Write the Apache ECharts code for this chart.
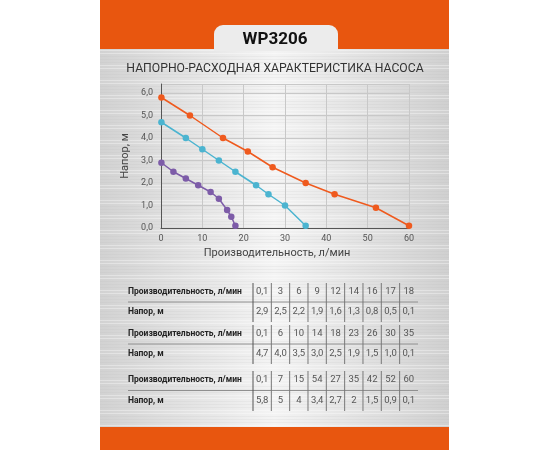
<!DOCTYPE html>
<html>
<head>
<meta charset="utf-8">
<script src="https://cdn.jsdelivr.net/npm/echarts@6/dist/echarts.min.js"></script>
<style>
  html, body { margin: 0; padding: 0; background: #fff; }
  #main { width: 550px; height: 450px; }
</style>
</head>
<body>
<div id="main"></div>
<script>
// данные графика
let flow1 = [0.1, 3, 6, 9, 12, 14, 16, 17, 18];
let head1 = [2.9, 2.5, 2.2, 1.9, 1.6, 1.3, 0.8, 0.5, 0.1];
let flow2 = [0.1, 6, 10, 14, 18, 23, 26, 30, 35];
let head2 = [4.7, 4.0, 3.5, 3.0, 2.5, 1.9, 1.5, 1.0, 0.1];
let flow3 = [0.1, 7, 15, 21, 27, 35, 42, 52, 60];
let head3 = [5.8, 5, 4, 3.4, 2.7, 2, 1.5, 0.9, 0.1];

// таблицы (как напечатано)
let tblFlow1 = ['0,1', '3', '6', '9', '12', '14', '16', '17', '18'];
let tblHead1 = ['2,9', '2,5', '2,2', '1,9', '1,6', '1,3', '0,8', '0,5', '0,1'];
let tblFlow2 = ['0,1', '6', '10', '14', '18', '23', '26', '30', '35'];
let tblHead2 = ['4,7', '4,0', '3,5', '3,0', '2,5', '1,9', '1,5', '1,0', '0,1'];
let tblFlow3 = ['0,1', '7', '15', '54', '27', '35', '42', '52', '60'];
let tblHead3 = ['5,8', '5', '4', '3,4', '2,7', '2', '1,5', '0,9', '0,1'];

let colors = ['#7d5ca8', '#4bb4d0', '#ef5a1e'];
let orange = '#e8560f';

let myChart = echarts.init(document.getElementById('main'));

function pairs(xs, ys) {
    return xs.map((x, i) => [x, ys[i]]);
}

let graphics = [
    // рамка и фон "под металл"
    {
        type: 'rect', z: -10, silent: true,
        shape: { x: 100, y: 0, width: 349, height: 450 },
        style: {
            fill: new echarts.graphic.LinearGradient(0, 0, 1, 0, [
                { offset: 0, color: '#d2d2d2' },
                { offset: 0.5, color: '#f4f4f4' },
                { offset: 1, color: '#d0d0d0' }
            ])
        }
    }
];
// штрихи
for (let y = 50; y < 427; y += 3) {
    let k = (y * 7) % 5;
    graphics.push({
        type: 'line', z: -9, silent: true,
        shape: { x1: 100, y1: y + 0.5, x2: 449, y2: y + 0.5 },
        style: { stroke: k < 2 ? '#ffffff' : '#b8b8b8', opacity: k < 2 ? 0.35 : 0.12, lineWidth: 1 }
    });
}
graphics.push(
    { type: 'rect', z: -8, silent: true, shape: { x: 100, y: 0, width: 349, height: 49 }, style: { fill: orange } },
    { type: 'rect', z: -8, silent: true, shape: { x: 100, y: 427, width: 349, height: 23 }, style: { fill: orange } },
    {
        type: 'rect', z: -7, silent: true,
        shape: { x: 214, y: 25, width: 124, height: 26, r: [9, 9, 0, 0] },
        style: { fill: '#ececec' }
    },
    {
        type: 'text', left: 'center', top: 31,
        style: { text: 'WP3206', font: 'bold 17px Roboto', fill: '#111' }
    },
    {
        type: 'text', left: 'center', top: 63,
        style: { text: 'НАПОРНО-РАСХОДНАЯ ХАРАКТЕРИСТИКА НАСОСА', font: '12.2px Roboto', fill: '#333' }
    }
);

// таблицы
let tables = [
    [tblFlow1, tblHead1, 292, 312],
    [tblFlow2, tblHead2, 334, 354],
    [tblFlow3, tblHead3, 380, 401]
];
let colLeft = 253, colW = 18.33;
tables.forEach(t => {
    let [fl, hd, y1, y2] = t;
    graphics.push({ type: 'text', x: 128, y: y1, style: { text: 'Производительность, л/мин', font: 'bold 8.5px Roboto', fill: '#222', verticalAlign: 'middle' } });
    graphics.push({ type: 'text', x: 128, y: y2, style: { text: 'Напор, м', font: 'bold 8.5px Roboto', fill: '#222', verticalAlign: 'middle' } });
    graphics.push({ type: 'line', silent: true, shape: { x1: 128, y1: (y1 + y2) / 2, x2: 418, y2: (y1 + y2) / 2 }, style: { stroke: '#909090', lineWidth: 1 } });
    for (let i = 0; i < 9; i++) {
        let cx = colLeft + colW * i + colW / 2;
        graphics.push({ type: 'line', silent: true, shape: { x1: colLeft + colW * i, y1: y1 - 9, x2: colLeft + colW * i, y2: y2 + 10 }, style: { stroke: i === 0 ? '#555' : '#777', lineWidth: 1 } });
        graphics.push({ type: 'text', x: cx, y: y1, style: { text: fl[i], font: '9.5px Roboto', fill: '#555', align: 'center', verticalAlign: 'middle' } });
        graphics.push({ type: 'text', x: cx, y: y2, style: { text: hd[i], font: '9.5px Roboto', fill: '#555', align: 'center', verticalAlign: 'middle' } });
    }
});

function lineSeries(data, color) {
    return {
        type: 'line',
        data: data,
        symbol: 'circle',
        symbolSize: 6.5,
        lineStyle: { color: color, width: 1.5 },
        itemStyle: { color: color },
        animation: false
    };
}

let option = {
    backgroundColor: '#fff',
    textStyle: { fontFamily: 'Roboto' },
    graphic: graphics,
    grid: { left: 161, right: 141, top: 84, bottom: 222 },
    xAxis: {
        type: 'value',
        min: 0, max: 60, interval: 10,
        name: 'Производительность, л/мин',
        nameLocation: 'middle',
        nameGap: 20,
        nameTextStyle: { color: '#444', fontSize: 11, padding: [0, 16, 0, 0] },
        axisLine: { lineStyle: { color: '#555' } },
        axisTick: { show: false },
        axisLabel: { color: '#555', fontSize: 9, margin: 6 },
        splitLine: { lineStyle: { color: '#c8c8c8' } }
    },
    yAxis: {
        type: 'value',
        min: 0, max: 6.4, interval: 1,
        name: 'Напор, м',
        nameLocation: 'middle',
        nameGap: 30,
        nameTextStyle: { color: '#444', fontSize: 11 },
        axisLine: { show: true, lineStyle: { color: '#555' } },
        axisTick: { show: false },
        axisLabel: {
            color: '#555', fontSize: 9, margin: 8,
            formatter: v => Number.isInteger(v) ? v.toFixed(1).replace('.', ',') : ''
        },
        splitLine: { lineStyle: { color: '#c8c8c8' } }
    },
    series: [
        lineSeries(pairs(flow1, head1), colors[0]),
        lineSeries(pairs(flow2, head2), colors[1]),
        lineSeries(pairs(flow3, head3), colors[2])
    ]
};
myChart.setOption(option);
</script>
</body>
</html>
